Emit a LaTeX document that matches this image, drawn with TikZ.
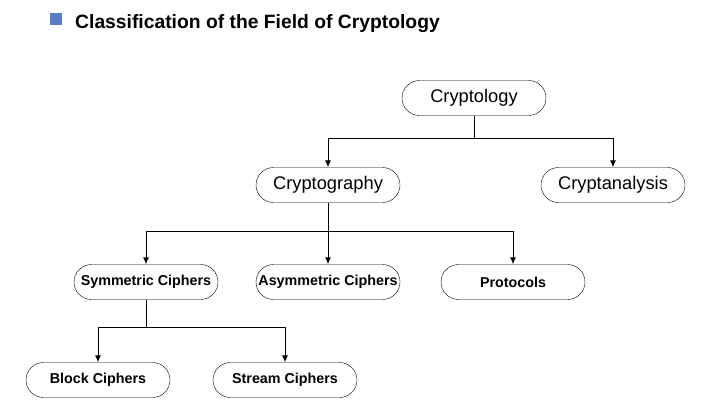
\documentclass[tikz,border=0pt]{standalone}
\usepackage{fontspec}
\setmainfont{Liberation Sans}
\usetikzlibrary{calc,arrows,arrows.meta,positioning}
\definecolor{titleblue}{RGB}{84,125,196}

\begin{document}
\begin{tikzpicture}[x=1pt,y=-1pt,node distance=5mm and 5mm]

\tikzset{topnode/.style={font=\fontsize{18.3}{22}\selectfont,draw=black,fill=white,rounded corners=17.5pt,minimum width=144pt,minimum height=35pt,inner sep=0pt},
subnode/.style={topnode,font=\fontsize{14.3}{17}\selectfont\bfseries},
branch/.style={-{Latex[length=7pt,width=6pt]},line width=1pt}}

\useasboundingbox (0,0) rectangle (720,416);

% Title
\node[fill=titleblue,minimum size=12pt,inner sep=0pt] (bullet) at (56,19) {};
\node[anchor=base west,inner sep=0pt,font=\fontsize{19.3}{23}\selectfont\bfseries] (title) at (75,28) {Classification of the Field of Cryptology};

% Upper levels
\node[topnode] (cryptology) at (474,98) {Cryptology};
\node[topnode] (cryptography) at (328,185) {Cryptography};
\node[topnode] (cryptanalysis) at (613,185) {Cryptanalysis};

% Lower levels
\node[subnode] (symmetric) at (146,282) {Symmetric Ciphers};
\node[subnode] (asymmetric) at (328,282) {Asymmetric Ciphers};
\node[subnode] (protocols) at (513,282) {Protocols};
\node[subnode] (block) at (98,380) {Block Ciphers};
\node[subnode] (stream) at (285,380) {Stream Ciphers};

% Junctions
\coordinate (j1) at ($(cryptology.south)+(0,23)$);
\coordinate (j2) at ($(cryptography.south)+(0,29)$);
\coordinate (j3) at ($(symmetric.south)+(0,28)$);

% Edges
\draw[line width=1pt] (cryptology.south) -- (j1);
\foreach \n in {cryptography,cryptanalysis} \draw[branch] (j1) -| (\n.north);
\draw[branch] (cryptography.south) -- (asymmetric.north);
\foreach \n in {symmetric,protocols} \draw[branch] (j2) -| (\n.north);
\draw[line width=1pt] (symmetric.south) -- (j3);
\foreach \n in {block,stream} \draw[branch] (j3) -| (\n.north);

\end{tikzpicture}
\end{document}
